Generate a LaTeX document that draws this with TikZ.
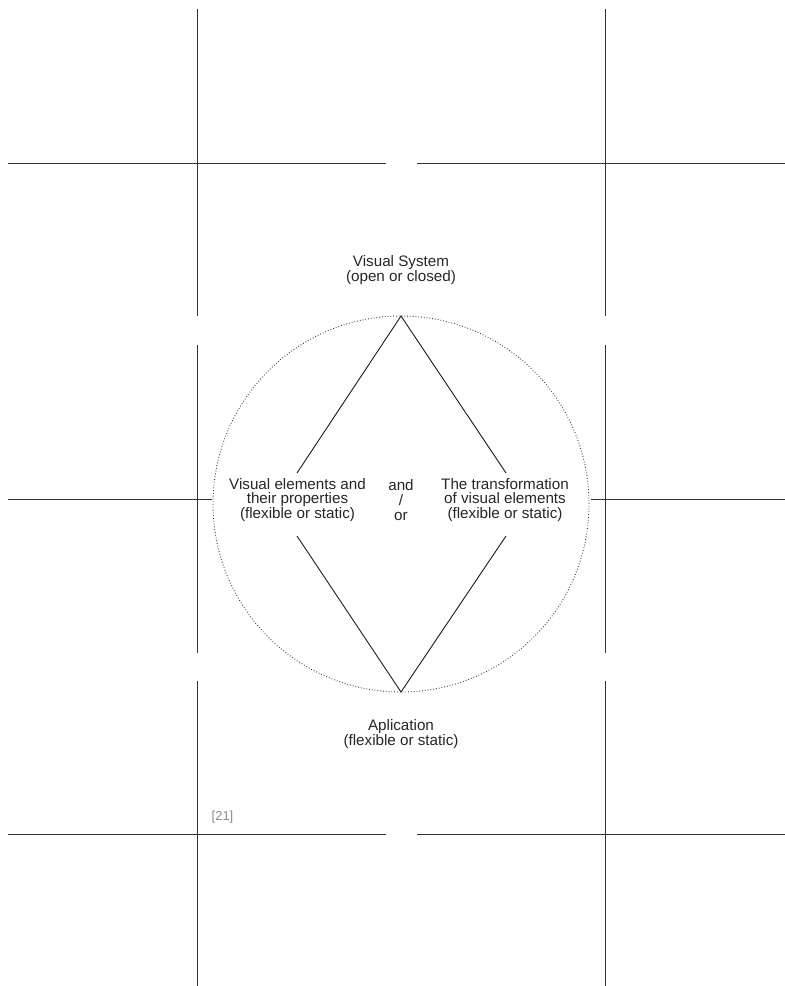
\documentclass[tikz,border=0pt]{standalone}
\usepackage{fontspec}
\setmainfont{Liberation Sans}
\begin{document}
\begin{tikzpicture}[x=1pt,y=-1pt,
  rule/.style={draw=black!80,line width=1pt},
  dia/.style={draw=black!90,line width=0.9pt},
  lbl/.style={align=center,font=\fontsize{15.2}{14.7}\selectfont,text=black!85,inner sep=0pt},
  dotc/.style={draw=black!80,line width=0.9pt,dash pattern=on 0.8pt off 2pt}]
\useasboundingbox (0,0) rectangle (785,986);
% grid lines
\foreach \x in {197,605}{
  \draw[rule] (\x,9) -- (\x,316);
  \draw[rule] (\x,345) -- (\x,653);
  \draw[rule] (\x,681) -- (\x,986);
}
\foreach \y in {163,834}{
  \draw[rule] (8,\y) -- (386,\y);
  \draw[rule] (417,\y) -- (785,\y);
}
\draw[rule] (8,499) -- (212,499);
\draw[rule] (591,499) -- (785,499);
% circle
\node[dotc,circle,minimum size=376pt,inner sep=0pt] (circ) at (401,504) {};
% diamond
\coordinate (T) at (401,316);
\coordinate (B) at (401,692);
\coordinate (LU) at (297,473);
\coordinate (RU) at (506,473);
\coordinate (LD) at (297,536);
\coordinate (RD) at (506,536);
\draw[dia] (LU) -- (T) -- (RU);
\draw[dia] (LD) -- (B) -- (RD);
% labels
\node[lbl] (vs) at (401,270) {Visual System\\(open or closed)};
\node[lbl] (ap) at (401,734) {Aplication\\(flexible or static)};
\node[lbl] (ve) at (297.5,500) {Visual elements and\\their properties\\(flexible or static)};
\node[lbl] (ao) at (401,500) {and\\/\\or};
\node[lbl] (tr) at (505,500) {The transformation\\of visual elements\\(flexible or static)};
\node[font=\fontsize{13}{13}\selectfont,text=black!45,inner sep=0pt] (ref) at (222.5,817) {[21]};
\end{tikzpicture}
\end{document}
